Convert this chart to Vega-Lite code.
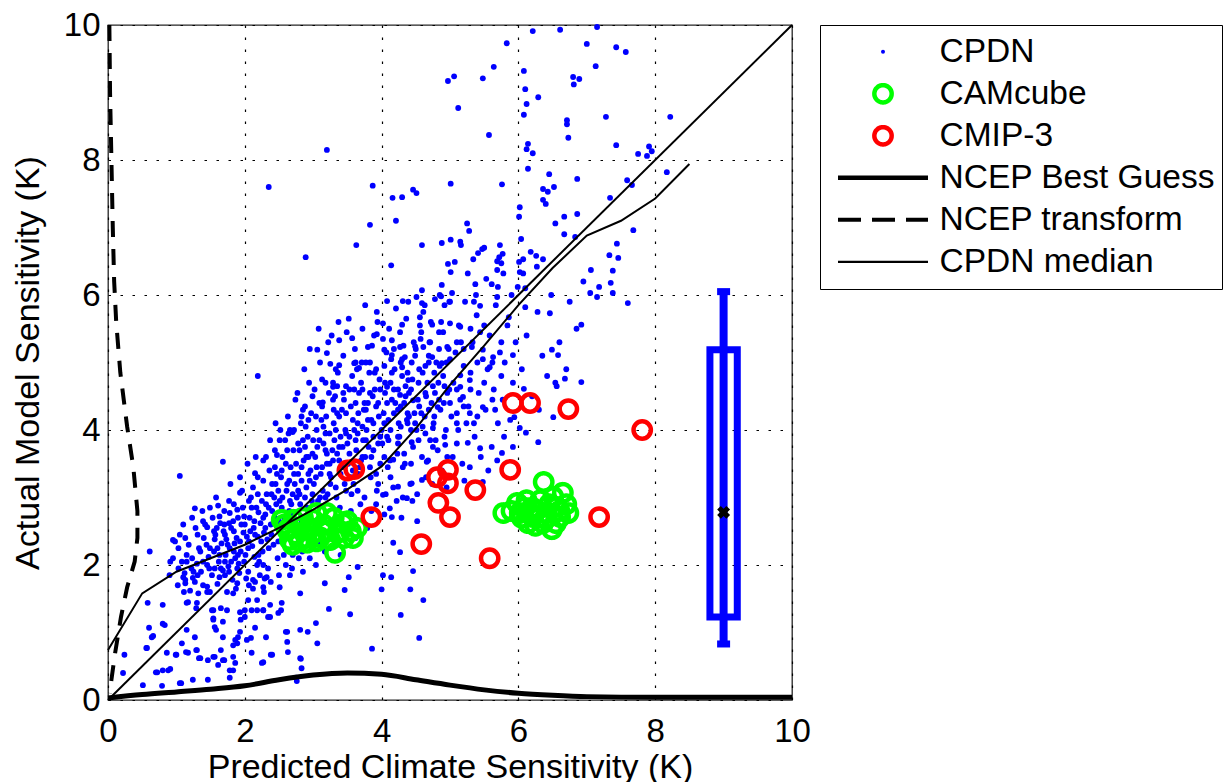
{
"$schema": "https://vega.github.io/schema/vega-lite/v6.json",
"width": 684, "height": 675,
"autosize": {"type": "none"},
"padding": {"left": 108, "top": 25, "right": 435, "bottom": 82},
"background": "white",
"config": {
  "font": "Liberation Sans",
  "view": {"stroke": "#262626", "strokeWidth": 1.3},
  "axis": {"labelFont": "Liberation Sans", "titleFont": "Liberation Sans", "labelFontSize": 33, "titleFontSize": 34, "labelColor": "black", "titleColor": "black", "titleFontWeight": "normal", "grid": true, "gridColor": "black", "gridDash": [2.5, 9.5], "gridWidth": 1.2, "gridOpacity": 1, "domain": false, "ticks": false, "format": "d"},
  "legend": {"labelFont": "Liberation Sans", "labelFontSize": 33.5, "labelColor": "black", "labelLimit": 600}
},
"datasets": {
  "cpdn": [
{"x":6.21,"y":9.91},{"x":6.61,"y":9.93},{"x":7.15,"y":9.97},{"x":5.83,"y":9.73},{"x":7.0,"y":9.72},{"x":7.43,"y":9.67},{"x":7.57,"y":9.6},{"x":7.13,"y":9.39},{"x":5.64,"y":9.38},{"x":5.06,"y":9.24},{"x":4.97,"y":9.17},{"x":5.48,"y":9.21},{"x":6.08,"y":9.32},{"x":6.8,"y":9.23},{"x":6.89,"y":9.2},{"x":6.81,"y":9.12},{"x":6.1,"y":9.05},{"x":6.29,"y":8.93},{"x":6.12,"y":8.83},{"x":5.12,"y":8.77},{"x":6.08,"y":8.67},{"x":6.71,"y":8.59},{"x":6.71,"y":8.53},{"x":7.28,"y":8.64},{"x":8.22,"y":8.64},{"x":5.57,"y":8.37},{"x":6.73,"y":8.33},{"x":7.43,"y":8.22},{"x":6.14,"y":8.24},{"x":6.12,"y":8.16},{"x":6.21,"y":8.1},{"x":7.75,"y":8.09},{"x":7.88,"y":8.06},{"x":7.91,"y":8.2},{"x":7.95,"y":8.13},{"x":8.17,"y":7.82},{"x":7.59,"y":7.7},{"x":7.66,"y":7.63},{"x":7.34,"y":7.44},{"x":7.68,"y":6.96},{"x":7.44,"y":6.76},{"x":7.33,"y":6.59},{"x":7.46,"y":6.55},{"x":7.06,"y":6.37},{"x":7.38,"y":6.36},{"x":7.35,"y":6.18},{"x":7.18,"y":6.12},{"x":7.38,"y":6.03},{"x":7.05,"y":6.03},{"x":7.15,"y":5.97},{"x":3.2,"y":8.15},{"x":2.35,"y":7.6},{"x":3.87,"y":7.62},{"x":4.16,"y":7.44},{"x":4.3,"y":7.45},{"x":4.46,"y":7.56},{"x":4.51,"y":7.51},{"x":4.21,"y":7.1},{"x":3.83,"y":7.04},{"x":3.63,"y":6.74},{"x":2.89,"y":6.56},{"x":4.14,"y":6.44},{"x":6.14,"y":7.87},{"x":6.45,"y":7.79},{"x":6.86,"y":7.72},{"x":5.01,"y":7.65},{"x":5.76,"y":7.64},{"x":6.36,"y":7.57},{"x":6.43,"y":7.53},{"x":6.52,"y":7.6},{"x":6.36,"y":7.41},{"x":6.4,"y":7.35},{"x":6.02,"y":7.3},{"x":6.01,"y":7.16},{"x":6.54,"y":7.06},{"x":6.67,"y":7.16},{"x":6.86,"y":7.2},{"x":5.25,"y":7.06},{"x":5.28,"y":6.95},{"x":4.59,"y":6.74},{"x":4.88,"y":6.77},{"x":5.01,"y":6.82},{"x":5.15,"y":6.79},{"x":5.16,"y":6.74},{"x":5.73,"y":6.74},{"x":6.04,"y":6.83},{"x":6.18,"y":6.64},{"x":6.26,"y":6.58},{"x":6.36,"y":6.53},{"x":6.67,"y":6.9},{"x":6.83,"y":6.86},{"x":4.97,"y":6.46},{"x":5.07,"y":6.49},{"x":5.01,"y":6.34},{"x":5.34,"y":6.53},{"x":5.41,"y":6.62},{"x":5.47,"y":6.68},{"x":5.5,"y":6.7},{"x":5.69,"y":6.5},{"x":5.72,"y":6.56},{"x":5.77,"y":6.61},{"x":5.75,"y":6.47},{"x":5.69,"y":6.37},{"x":5.78,"y":6.32},{"x":5.26,"y":6.32},{"x":6.01,"y":6.49},{"x":6.07,"y":6.53},{"x":6.02,"y":6.34},{"x":6.07,"y":6.32},{"x":6.27,"y":6.42},{"x":5.53,"y":6.24},{"x":5.61,"y":6.16},{"x":5.7,"y":6.12},{"x":5.37,"y":6.16},{"x":4.88,"y":6.15},{"x":4.59,"y":6.07},{"x":4.51,"y":5.97},{"x":4.87,"y":5.98},{"x":5.03,"y":6.03},{"x":5.38,"y":6.0},{"x":5.69,"y":5.97},{"x":4.08,"y":5.91},{"x":4.31,"y":5.91},{"x":4.59,"y":5.88},{"x":4.63,"y":5.85},{"x":4.78,"y":5.94},{"x":5.0,"y":5.9},{"x":5.35,"y":5.9},{"x":5.44,"y":5.84},{"x":6.1,"y":5.82},{"x":5.99,"y":6.12},{"x":7.6,"y":5.88},
{"x":6.46,"y":5.73},{"x":6.49,"y":5.19},{"x":6.58,"y":5.11},{"x":6.92,"y":5.56},{"x":6.68,"y":4.76},{"x":6.92,"y":4.71},{"x":6.54,"y":4.7},{"x":6.56,"y":4.65},{"x":6.08,"y":4.61},{"x":6.51,"y":4.19},{"x":5.94,"y":4.19},{"x":6.02,"y":4.03},{"x":6.11,"y":3.96},{"x":6.29,"y":3.82},{"x":5.92,"y":3.75},{"x":5.48,"y":3.23},{"x":5.76,"y":3.66},{"x":5.92,"y":5.11},{"x":5.86,"y":5.67},{"x":4.12,"y":2.84},{"x":4.15,"y":2.71},{"x":4.52,"y":2.65},{"x":4.17,"y":2.33},{"x":4.27,"y":2.19},{"x":4.46,"y":1.91},{"x":4.14,"y":1.82},{"x":4.02,"y":1.85},{"x":4.0,"y":1.64},{"x":4.42,"y":1.64},{"x":4.61,"y":1.48},{"x":4.28,"y":1.26},{"x":4.55,"y":0.92},{"x":3.86,"y":0.76},
{"x":4.02,"y":5.58},{"x":4.3,"y":5.56},{"x":4.56,"y":5.67},{"x":4.74,"y":5.56},{"x":4.9,"y":5.45},{"x":5.0,"y":5.58},{"x":5.15,"y":5.53},{"x":5.1,"y":5.3},{"x":4.96,"y":5.23},{"x":4.71,"y":5.3},{"x":4.61,"y":5.23},{"x":4.34,"y":5.08},{"x":4.15,"y":5.11},{"x":4.3,"y":4.93},{"x":4.74,"y":5.08},{"x":4.88,"y":4.99},{"x":5.15,"y":4.81},{"x":5.32,"y":5.23},{"x":5.48,"y":5.19},{"x":5.63,"y":5.08},{"x":5.58,"y":4.93},{"x":5.29,"y":4.74},{"x":5.15,"y":4.64},{"x":4.96,"y":4.55},{"x":4.39,"y":4.74},{"x":4.08,"y":4.64},{"x":4.27,"y":4.52},{"x":4.46,"y":4.44},{"x":4.82,"y":4.34},{"x":5.19,"y":4.49},{"x":5.29,"y":4.25},{"x":5.48,"y":4.34},{"x":5.66,"y":4.3},{"x":5.1,"y":4.1},{"x":4.75,"y":4.03},{"x":4.37,"y":4.15},{"x":4.24,"y":3.9},{"x":4.44,"y":3.82},{"x":4.75,"y":3.75},{"x":4.93,"y":3.78},{"x":5.26,"y":3.81},{"x":5.44,"y":3.73},{"x":4.17,"y":3.56},{"x":4.31,"y":3.45},{"x":4.66,"y":3.53},{"x":4.59,"y":3.26},{"x":4.44,"y":3.21},{"x":4.24,"y":3.16},{"x":4.37,"y":2.99},{"x":4.02,"y":3.04},
{"x":3.23,"y":1.35},{"x":3.04,"y":1.14},{"x":3.06,"y":0.84},{"x":3.46,"y":1.63},{"x":3.54,"y":1.27},{"x":3.17,"y":1.73},{"x":3.52,"y":1.82},{"x":2.92,"y":1.01},{"x":2.83,"y":0.47},{"x":2.82,"y":0.61},{"x":2.76,"y":0.28},{"x":2.62,"y":1.01},{"x":2.62,"y":0.86},{"x":2.63,"y":0.71},{"x":2.4,"y":0.67},{"x":2.25,"y":0.55},{"x":2.31,"y":0.93},{"x":2.15,"y":1.07},{"x":2.03,"y":0.89},{"x":2.1,"y":0.7},{"x":2.49,"y":1.29},{"x":2.54,"y":1.44},{"x":2.27,"y":1.33},{"x":2.18,"y":1.33},{"x":2.37,"y":1.23},{"x":1.78,"y":0.44},{"x":1.78,"y":0.33},{"x":1.7,"y":0.59},{"x":1.65,"y":0.74},{"x":1.83,"y":0.64},{"x":1.89,"y":0.84},{"x":1.9,"y":0.93},{"x":1.54,"y":0.64},{"x":1.46,"y":0.59},{"x":1.35,"y":0.62},{"x":1.3,"y":0.74},{"x":1.17,"y":0.7},{"x":1.08,"y":0.84},{"x":1.0,"y":0.67},{"x":0.88,"y":0.44},{"x":0.8,"y":0.44},{"x":0.72,"y":0.41},{"x":0.79,"y":0.21},{"x":0.51,"y":0.22},{"x":0.57,"y":0.77},{"x":0.64,"y":0.93},{"x":0.6,"y":1.07},{"x":0.8,"y":1.13},{"x":1.05,"y":0.25},{"x":1.24,"y":0.3},{"x":1.46,"y":0.3},{"x":0.22,"y":0.4},{"x":0.24,"y":0.67},{"x":0.58,"y":1.44},{"x":0.8,"y":1.41},{"x":1.17,"y":1.45},{"x":1.3,"y":1.44},{"x":1.13,"y":1.73},{"x":1.1,"y":1.82},{"x":1.45,"y":1.6},{"x":1.52,"y":1.33},{"x":1.54,"y":1.21},{"x":1.58,"y":1.04},{"x":1.74,"y":1.33},{"x":1.68,"y":1.16},{"x":1.93,"y":1.3},{"x":2.1,"y":1.33},{"x":2.05,"y":1.48},{"x":2.18,"y":1.48},{"x":2.37,"y":1.41},{"x":2.51,"y":1.67},{"x":2.27,"y":1.67},{"x":1.83,"y":1.58},{"x":1.49,"y":1.6},{"x":1.24,"y":1.81},{"x":1.71,"y":1.85},{"x":1.89,"y":1.73},{"x":2.12,"y":1.78},{"x":2.32,"y":1.82},{"x":2.66,"y":1.85},{"x":2.81,"y":1.58},{"x":2.85,"y":1.9},{"x":3.65,"y":1.97},{"x":0.61,"y":2.2},{"x":0.91,"y":2.05},{"x":0.83,"y":1.11},{"x":0.66,"y":0.95},{"x":0.56,"y":0.77},{"x":0.7,"y":0.41},{"x":0.91,"y":0.46},{"x":1.07,"y":0.25},{"x":0.86,"y":0.7},{"x":0.99,"y":0.67},{"x":1.14,"y":0.71},{"x":1.27,"y":0.93},{"x":1.29,"y":0.74},{"x":1.33,"y":0.62},{"x":1.56,"y":0.64},{"x":1.68,"y":0.59},{"x":1.61,"y":0.52},{"x":1.86,"y":0.55},{"x":1.83,"y":0.44},{"x":1.15,"y":1.04},{"x":1.11,"y":1.6},{"x":1.15,"y":1.44},{"x":1.29,"y":1.36},{"x":1.54,"y":1.33},{"x":1.65,"y":1.36},{"x":1.54,"y":1.19},{"x":1.56,"y":1.08},{"x":1.68,"y":0.93},{"x":1.94,"y":1.19},{"x":2.0,"y":1.23},{"x":1.93,"y":1.01},{"x":1.86,"y":0.89},{"x":1.83,"y":0.81},{"x":2.09,"y":0.92},{"x":2.0,"y":1.33},{"x":2.27,"y":1.33},{"x":2.34,"y":1.23},{"x":2.53,"y":1.33},{"x":2.6,"y":1.01},{"x":2.38,"y":0.67},{"x":2.27,"y":0.56},{"x":2.81,"y":0.62},{"x":2.75,"y":0.33},{"x":2.81,"y":1.04},
{"x":1.68,"y":3.53},{"x":1.05,"y":3.32},{"x":1.27,"y":2.84},{"x":0.95,"y":2.37},{"x":1.45,"y":2.56},{"x":2.19,"y":4.8},{"x":3.57,"y":5.36},{"x":3.76,"y":5.85},{"x":2.51,"y":3.85},{"x":2.47,"y":3.63},{"x":2.7,"y":3.97},{"x":2.85,"y":4.3},{"x":3.14,"y":4.41},{"x":3.29,"y":4.64},{"x":2.15,"y":3.36},{"x":1.93,"y":3.07},{"x":1.78,"y":2.77},{"x":1.59,"y":2.55},
{"x":3.38,"y":5.33},{"x":3.06,"y":5.19},{"x":3.2,"y":5.14},{"x":3.25,"y":4.98},{"x":3.38,"y":4.96},{"x":3.6,"y":4.99},{"x":3.67,"y":4.92},{"x":3.35,"y":4.65},{"x":3.93,"y":5.75},{"x":3.93,"y":5.42},{"x":4.15,"y":5.33},{"x":3.8,"y":5.23},{"x":4.04,"y":5.19},{"x":4.27,"y":5.23},{"x":4.49,"y":5.24},{"x":4.85,"y":6.0},{"x":4.99,"y":5.9},
{"x":1.02,"y":1.7},{"x":1.08,"y":2.05},{"x":1.12,"y":1.88},{"x":1.18,"y":2.3},{"x":1.05,"y":2.45},{"x":1.2,"y":1.62},{"x":1.15,"y":2.15},{"x":1.22,"y":1.95},{"x":0.95,"y":2.1},{"x":0.9,"y":1.85},{"x":0.98,"y":2.35},{"x":1.1,"y":2.6},
{"x":1.27,"y":1.75},{"x":1.3,"y":2.02},{"x":1.33,"y":2.25},{"x":1.36,"y":1.9},{"x":1.4,"y":2.4},{"x":1.42,"y":2.6},{"x":1.45,"y":1.68},{"x":1.47,"y":2.12},{"x":1.28,"y":2.55},{"x":1.38,"y":2.8},{"x":1.48,"y":1.95},{"x":1.32,"y":1.58},{"x":1.44,"y":2.3},
{"x":1.52,"y":1.85},{"x":1.55,"y":2.2},{"x":1.57,"y":2.45},{"x":1.6,"y":1.72},{"x":1.62,"y":2.05},{"x":1.64,"y":2.62},{"x":1.66,"y":2.32},{"x":1.68,"y":1.92},{"x":1.7,"y":2.8},{"x":1.72,"y":2.15},{"x":1.74,"y":1.6},{"x":1.53,"y":2.7},{"x":1.58,"y":3.0},{"x":1.69,"y":2.5},{"x":1.61,"y":2.88},{"x":1.73,"y":2.38},
{"x":1.76,"y":1.98},{"x":1.78,"y":2.25},{"x":1.8,"y":2.55},{"x":1.82,"y":1.78},{"x":1.84,"y":2.9},{"x":1.86,"y":2.1},{"x":1.88,"y":2.4},{"x":1.9,"y":2.7},{"x":1.92,"y":1.88},{"x":1.94,"y":2.2},{"x":1.96,"y":3.1},{"x":1.98,"y":2.48},{"x":1.79,"y":3.2},{"x":1.83,"y":2.65},{"x":1.91,"y":2.02},{"x":1.97,"y":2.85},{"x":1.87,"y":1.65},{"x":1.95,"y":2.6},
{"x":2.01,"y":2.15},{"x":2.03,"y":2.42},{"x":2.05,"y":1.9},{"x":2.07,"y":2.7},{"x":2.09,"y":3.0},{"x":2.11,"y":2.28},{"x":2.13,"y":2.55},{"x":2.15,"y":1.75},{"x":2.17,"y":2.85},{"x":2.19,"y":3.3},{"x":2.21,"y":2.05},{"x":2.23,"y":2.62},{"x":2.24,"y":2.35},{"x":2.04,"y":3.5},{"x":2.12,"y":3.15},{"x":2.18,"y":2.0},{"x":2.2,"y":2.78},{"x":2.08,"y":2.5},{"x":2.16,"y":3.6},{"x":2.22,"y":1.85},
{"x":2.26,"y":2.2},{"x":2.28,"y":2.48},{"x":2.3,"y":2.75},{"x":2.32,"y":3.05},{"x":2.34,"y":1.95},{"x":2.36,"y":3.4},{"x":2.38,"y":2.6},{"x":2.4,"y":3.2},{"x":2.42,"y":2.3},{"x":2.44,"y":3.7},{"x":2.46,"y":2.9},{"x":2.48,"y":2.1},{"x":2.27,"y":3.55},{"x":2.33,"y":2.38},{"x":2.37,"y":3.85},{"x":2.43,"y":3.0},{"x":2.47,"y":3.35},{"x":2.29,"y":1.8},{"x":2.35,"y":2.85},{"x":2.45,"y":4.1},
{"x":2.51,"y":2.95},{"x":2.53,"y":3.3},{"x":2.55,"y":3.6},{"x":2.57,"y":2.15},{"x":2.59,"y":3.85},{"x":2.61,"y":3.1},{"x":2.63,"y":4.2},{"x":2.65,"y":2.8},{"x":2.67,"y":3.45},{"x":2.69,"y":1.95},{"x":2.71,"y":3.7},{"x":2.73,"y":3.2},{"x":2.74,"y":4.45},{"x":2.52,"y":4.0},{"x":2.56,"y":2.4},{"x":2.6,"y":3.5},{"x":2.64,"y":3.95},{"x":2.68,"y":2.9},{"x":2.72,"y":4.0},{"x":2.58,"y":2.7},{"x":2.7,"y":3.05},
{"x":2.76,"y":3.0},{"x":2.78,"y":3.35},{"x":2.8,"y":3.7},{"x":2.82,"y":4.1},{"x":2.84,"y":2.2},{"x":2.86,"y":3.55},{"x":2.88,"y":4.35},{"x":2.9,"y":3.15},{"x":2.92,"y":3.9},{"x":2.94,"y":4.7},{"x":2.96,"y":3.4},{"x":2.98,"y":2.95},{"x":2.77,"y":4.55},{"x":2.81,"y":2.9},{"x":2.85,"y":3.85},{"x":2.89,"y":4.05},{"x":2.93,"y":3.6},{"x":2.97,"y":4.25},{"x":2.79,"y":2.1},{"x":2.83,"y":3.25},{"x":2.91,"y":2.85},{"x":2.95,"y":5.2},{"x":2.87,"y":4.9},
{"x":3.01,"y":3.2},{"x":3.03,"y":3.6},{"x":3.05,"y":4.0},{"x":3.07,"y":2.95},{"x":3.09,"y":4.4},{"x":3.11,"y":3.35},{"x":3.13,"y":4.75},{"x":3.15,"y":3.8},{"x":3.17,"y":2.2},{"x":3.19,"y":4.2},{"x":3.21,"y":3.05},{"x":3.23,"y":4.55},{"x":3.24,"y":3.5},{"x":3.02,"y":4.6},{"x":3.06,"y":3.75},{"x":3.1,"y":5.0},{"x":3.14,"y":3.1},{"x":3.18,"y":3.95},{"x":3.22,"y":5.3},{"x":3.04,"y":2.0},{"x":3.12,"y":4.15},{"x":3.2,"y":3.65},{"x":3.08,"y":5.5},
{"x":3.26,"y":3.3},{"x":3.28,"y":3.7},{"x":3.3,"y":4.1},{"x":3.32,"y":4.5},{"x":3.34,"y":3.0},{"x":3.36,"y":4.85},{"x":3.38,"y":3.55},{"x":3.4,"y":3.9},{"x":3.42,"y":4.3},{"x":3.44,"y":5.1},{"x":3.46,"y":3.2},{"x":3.48,"y":4.65},{"x":3.27,"y":5.4},{"x":3.31,"y":3.85},{"x":3.35,"y":4.25},{"x":3.39,"y":2.85},{"x":3.43,"y":3.75},{"x":3.47,"y":4.0},{"x":3.29,"y":4.7},{"x":3.37,"y":5.6},{"x":3.45,"y":2.6},{"x":3.33,"y":2.3},{"x":3.49,"y":5.45},
{"x":3.51,"y":3.5},{"x":3.53,"y":3.9},{"x":3.55,"y":4.35},{"x":3.57,"y":4.8},{"x":3.59,"y":3.2},{"x":3.61,"y":5.2},{"x":3.63,"y":3.7},{"x":3.65,"y":4.1},{"x":3.67,"y":4.55},{"x":3.69,"y":2.9},{"x":3.71,"y":5.0},{"x":3.73,"y":3.85},{"x":3.74,"y":4.3},{"x":3.52,"y":5.65},{"x":3.56,"y":3.05},{"x":3.6,"y":4.0},{"x":3.64,"y":4.9},{"x":3.68,"y":3.45},{"x":3.72,"y":5.5},{"x":3.54,"y":2.55},{"x":3.62,"y":2.4},{"x":3.7,"y":4.7},
{"x":3.76,"y":3.6},{"x":3.78,"y":4.0},{"x":3.8,"y":4.4},{"x":3.82,"y":4.85},{"x":3.84,"y":3.3},{"x":3.86,"y":5.25},{"x":3.88,"y":3.9},{"x":3.9,"y":4.6},{"x":3.92,"y":2.9},{"x":3.94,"y":5.6},{"x":3.96,"y":4.2},{"x":3.98,"y":3.5},{"x":3.77,"y":5.0},{"x":3.81,"y":3.75},{"x":3.85,"y":4.15},{"x":3.89,"y":5.4},{"x":3.93,"y":3.1},{"x":3.97,"y":4.75},{"x":3.79,"y":2.55},{"x":3.87,"y":4.5},{"x":3.95,"y":3.8},
{"x":4.01,"y":3.8},{"x":4.03,"y":4.25},{"x":4.05,"y":4.7},{"x":4.07,"y":5.15},{"x":4.09,"y":3.45},{"x":4.11,"y":5.5},{"x":4.13,"y":4.0},{"x":4.15,"y":4.45},{"x":4.17,"y":3.15},{"x":4.19,"y":4.9},{"x":4.21,"y":5.8},{"x":4.23,"y":3.65},{"x":4.24,"y":4.3},{"x":4.02,"y":5.35},{"x":4.06,"y":3.05},{"x":4.1,"y":4.15},{"x":4.14,"y":5.05},{"x":4.18,"y":4.6},{"x":4.22,"y":2.95},{"x":4.04,"y":2.75},{"x":4.12,"y":3.55},
{"x":4.26,"y":3.9},{"x":4.28,"y":4.35},{"x":4.3,"y":4.8},{"x":4.32,"y":5.25},{"x":4.34,"y":3.5},{"x":4.36,"y":5.65},{"x":4.38,"y":4.1},{"x":4.4,"y":4.55},{"x":4.42,"y":3.2},{"x":4.44,"y":5.0},{"x":4.46,"y":3.75},{"x":4.48,"y":4.25},{"x":4.27,"y":5.45},{"x":4.31,"y":3.0},{"x":4.35,"y":4.65},{"x":4.39,"y":5.9},{"x":4.43,"y":4.0},{"x":4.47,"y":5.3},{"x":4.29,"y":2.7},{"x":4.45,"y":2.95},
{"x":4.51,"y":4.0},{"x":4.53,"y":4.45},{"x":4.55,"y":4.9},{"x":4.57,"y":5.35},{"x":4.59,"y":3.6},{"x":4.61,"y":5.75},{"x":4.63,"y":4.2},{"x":4.65,"y":3.3},{"x":4.67,"y":4.7},{"x":4.69,"y":5.1},{"x":4.71,"y":3.85},{"x":4.73,"y":4.4},{"x":4.52,"y":3.05},{"x":4.56,"y":5.55},{"x":4.6,"y":4.05},{"x":4.64,"y":4.95},{"x":4.68,"y":3.55},{"x":4.72,"y":5.6},{"x":4.74,"y":3.2},
{"x":4.76,"y":4.1},{"x":4.78,"y":4.55},{"x":4.8,"y":5.0},{"x":4.82,"y":3.7},{"x":4.84,"y":5.45},{"x":4.86,"y":4.3},{"x":4.88,"y":3.4},{"x":4.9,"y":4.8},{"x":4.92,"y":5.85},{"x":4.94,"y":4.0},{"x":4.96,"y":3.6},{"x":4.98,"y":5.2},{"x":4.79,"y":3.85},{"x":4.83,"y":4.7},{"x":4.87,"y":5.6},{"x":4.91,"y":4.4},{"x":4.95,"y":3.15},{"x":4.99,"y":4.6},
{"x":5.02,"y":4.2},{"x":5.05,"y":4.7},{"x":5.08,"y":5.15},{"x":5.1,"y":3.8},{"x":5.13,"y":5.55},{"x":5.15,"y":4.45},{"x":5.18,"y":3.5},{"x":5.2,"y":4.95},{"x":5.22,"y":5.9},{"x":5.24,"y":4.1},{"x":5.04,"y":3.6},{"x":5.12,"y":4.0},{"x":5.16,"y":5.3},{"x":5.21,"y":3.25},
{"x":5.27,"y":4.35},{"x":5.3,"y":4.85},{"x":5.33,"y":5.3},{"x":5.36,"y":3.9},{"x":5.39,"y":5.7},{"x":5.42,"y":4.55},{"x":5.45,"y":3.6},{"x":5.48,"y":5.05},{"x":5.29,"y":3.45},{"x":5.35,"y":4.1},{"x":5.44,"y":5.45},
{"x":5.52,"y":4.3},{"x":5.55,"y":4.9},{"x":5.58,"y":5.4},{"x":5.61,"y":3.75},{"x":5.64,"y":4.6},{"x":5.67,"y":5.85},{"x":5.7,"y":4.1},{"x":5.73,"y":5.15},{"x":5.56,"y":3.4},{"x":5.69,"y":3.55},
{"x":5.77,"y":4.45},{"x":5.8,"y":5.0},{"x":5.84,"y":5.55},{"x":5.88,"y":4.15},{"x":5.92,"y":4.7},{"x":5.96,"y":5.3},{"x":5.79,"y":3.9},{"x":5.9,"y":6.0},
{"x":6.05,"y":4.9},{"x":6.12,"y":5.4},{"x":6.2,"y":4.5},{"x":6.28,"y":5.75},{"x":6.35,"y":5.1},{"x":6.42,"y":4.8},{"x":6.48,"y":6.0},{"x":6.1,"y":6.1},{"x":6.3,"y":4.3},{"x":6.6,"y":5.3},{"x":6.75,"y":5.9},{"x":6.85,"y":5.5},{"x":6.95,"y":6.2},{"x":6.7,"y":4.9},
{"x":1.85,"y":2.32},{"x":1.9,"y":2.15},{"x":2.0,"y":2.6},{"x":2.05,"y":2.25},{"x":2.1,"y":2.85},{"x":2.15,"y":2.45},{"x":2.2,"y":2.15},{"x":2.25,"y":2.95},{"x":2.3,"y":2.55},{"x":2.35,"y":2.25},{"x":2.4,"y":2.8},{"x":2.45,"y":3.2},{"x":2.5,"y":2.65},{"x":2.55,"y":3.0},{"x":2.6,"y":2.4},{"x":2.65,"y":3.25},{"x":2.7,"y":2.75},{"x":2.75,"y":3.5},{"x":2.8,"y":3.05},{"x":2.85,"y":2.7},{"x":2.9,"y":3.6},{"x":2.95,"y":3.25},{"x":3.0,"y":3.85},{"x":3.05,"y":3.45},{"x":3.1,"y":3.0},{"x":3.15,"y":4.05},{"x":3.2,"y":3.5},{"x":3.25,"y":3.2},{"x":3.3,"y":4.3},{"x":3.35,"y":3.65},{"x":3.4,"y":3.35},{"x":3.45,"y":4.45},{"x":3.5,"y":3.8},{"x":3.55,"y":3.3},{"x":3.6,"y":4.6},{"x":3.65,"y":3.95},{"x":3.7,"y":3.55},{"x":3.75,"y":4.4},{"x":3.8,"y":4.15},{"x":3.85,"y":3.6},{"x":3.9,"y":4.85},{"x":3.95,"y":4.4},{"x":4.0,"y":4.0},{"x":4.05,"y":4.55},{"x":4.1,"y":3.85},{"x":4.15,"y":4.85},{"x":4.2,"y":4.4},{"x":4.25,"y":4.1},{"x":4.3,"y":5.05},{"x":4.35,"y":4.5},{"x":4.4,"y":4.2},{"x":4.45,"y":4.75},{"x":4.5,"y":5.2},{"x":4.55,"y":4.35},{"x":4.6,"y":4.85},{"x":4.65,"y":4.5},{"x":4.7,"y":5.3},{"x":4.75,"y":4.65},{"x":4.85,"y":4.95},{"x":4.95,"y":5.0},
{"x":1.6,"y":2.25},{"x":1.65,"y":1.95},{"x":1.7,"y":2.6},{"x":1.75,"y":2.3},{"x":1.8,"y":2.05},{"x":1.55,"y":2.5},{"x":1.45,"y":2.0},{"x":1.35,"y":2.2},{"x":1.25,"y":1.9},{"x":1.15,"y":2.05},{"x":2.02,"y":1.8},{"x":2.12,"y":1.65},{"x":2.28,"y":1.6},{"x":2.38,"y":1.75},{"x":2.5,"y":1.85},{"x":2.6,"y":2.0},{"x":2.7,"y":2.15},{"x":2.85,"y":2.4},{"x":2.95,"y":2.1},{"x":3.1,"y":2.3},{"x":3.25,"y":2.5},{"x":3.4,"y":2.15},{"x":3.55,"y":2.8},{"x":3.65,"y":3.1},{"x":3.75,"y":3.0},{"x":3.85,"y":2.8},{"x":3.95,"y":3.2},
{"x":1.03,"y":1.95},{"x":1.03,"y":2.25},{"x":1.13,"y":1.78},{"x":1.13,"y":2.4},{"x":1.23,"y":2.1},{"x":1.23,"y":2.7},{"x":1.31,"y":1.85},{"x":1.31,"y":2.45},{"x":1.39,"y":2.05},{"x":1.39,"y":2.65},{"x":1.39,"y":1.7},{"x":1.49,"y":2.25},{"x":1.49,"y":2.85},{"x":1.56,"y":1.95},{"x":1.56,"y":2.38},{"x":1.63,"y":2.15},{"x":1.63,"y":2.72},{"x":1.63,"y":1.82},{"x":1.71,"y":2.45},{"x":1.71,"y":2.05},{"x":1.77,"y":2.62},{"x":1.77,"y":1.9},{"x":1.77,"y":2.95},{"x":1.84,"y":2.2},{"x":1.84,"y":2.5},{"x":1.89,"y":2.82},{"x":1.89,"y":1.95},{"x":1.93,"y":2.35},{"x":1.93,"y":3.3},{"x":1.99,"y":2.05},{"x":1.99,"y":2.72},{"x":2.06,"y":2.35},{"x":2.06,"y":2.95},{"x":2.06,"y":1.7},{"x":2.14,"y":2.65},{"x":2.14,"y":2.12},{"x":2.19,"y":2.42},{"x":2.19,"y":3.05},{"x":2.27,"y":2.7},{"x":2.27,"y":2.0},{"x":2.27,"y":3.25},{"x":2.31,"y":2.9},{"x":2.31,"y":3.6},{"x":2.39,"y":2.45},{"x":2.39,"y":3.05},{"x":2.44,"y":2.7},{"x":2.44,"y":3.45},{"x":2.49,"y":3.1},{"x":2.49,"y":2.35},{"x":2.54,"y":2.85},{"x":2.54,"y":3.4},{"x":2.62,"y":3.2},{"x":2.62,"y":3.7},{"x":2.62,"y":2.6},{"x":2.66,"y":2.95},{"x":2.66,"y":4.0},{"x":2.72,"y":3.35},{"x":2.72,"y":2.55},{"x":2.78,"y":3.8},{"x":2.78,"y":3.1},{"x":2.83,"y":3.45},{"x":2.83,"y":2.65},{"x":2.83,"y":4.2},{"x":2.88,"y":3.75},{"x":2.88,"y":3.0},{"x":2.93,"y":4.15},{"x":2.93,"y":3.35},{"x":2.99,"y":3.65},{"x":2.99,"y":4.5},{"x":2.99,"y":3.05},{"x":3.04,"y":3.3},{"x":3.04,"y":4.2},{"x":3.09,"y":3.85},{"x":3.09,"y":2.7},{"x":3.13,"y":3.45},{"x":3.13,"y":4.35},{"x":3.18,"y":3.7},{"x":3.18,"y":4.7},{"x":3.18,"y":3.0},{"x":3.24,"y":3.95},{"x":3.24,"y":3.35},{"x":3.29,"y":3.55},{"x":3.29,"y":4.45},{"x":3.33,"y":4.0},{"x":3.33,"y":3.15},{"x":3.33,"y":4.9},{"x":3.38,"y":3.75},{"x":3.38,"y":4.2},{"x":3.44,"y":3.45},{"x":3.44,"y":4.55},{"x":3.48,"y":3.95},{"x":3.48,"y":4.25},{"x":3.48,"y":3.1},{"x":3.53,"y":3.65},{"x":3.53,"y":4.6},{"x":3.58,"y":4.15},{"x":3.58,"y":3.4},{"x":3.62,"y":3.85},{"x":3.62,"y":4.4},{"x":3.62,"y":5.0},{"x":3.66,"y":3.35},{"x":3.66,"y":4.25},{"x":3.72,"y":4.05},{"x":3.72,"y":4.6},{"x":3.72,"y":3.6},{"x":3.77,"y":3.85},{"x":3.77,"y":4.3},{"x":3.83,"y":4.55},{"x":3.83,"y":3.45},{"x":3.83,"y":5.0},{"x":3.88,"y":4.1},{"x":3.88,"y":3.7},{"x":3.92,"y":4.35},{"x":3.92,"y":4.9},{"x":3.92,"y":3.35},{"x":3.98,"y":3.9},{"x":3.98,"y":4.6},{"x":4.04,"y":4.1},{"x":4.04,"y":4.95},{"x":4.04,"y":3.6},{"x":4.08,"y":4.4},{"x":4.08,"y":3.9},{"x":4.13,"y":4.7},{"x":4.13,"y":3.3},{"x":4.18,"y":4.25},{"x":4.18,"y":5.2},{"x":4.24,"y":4.6},{"x":4.24,"y":3.8},{"x":4.28,"y":4.05},{"x":4.28,"y":5.0},{"x":4.33,"y":4.4},{"x":4.33,"y":3.65},{"x":4.38,"y":4.85},{"x":4.38,"y":4.25},{"x":4.43,"y":4.6},{"x":4.43,"y":3.5},{"x":4.49,"y":4.1},{"x":4.49,"y":5.1},{"x":4.54,"y":4.7},{"x":4.54,"y":3.85},{"x":4.58,"y":4.25},{"x":4.58,"y":5.45},{"x":4.64,"y":4.55},{"x":4.64,"y":3.95},{"x":4.69,"y":4.3},{"x":4.69,"y":5.0},{"x":4.77,"y":4.85},{"x":4.77,"y":4.2},{"x":4.84,"y":4.45},{"x":4.84,"y":5.2},{"x":4.92,"y":4.65},{"x":4.92,"y":3.9},{"x":5.0,"y":4.4},{"x":5.0,"y":5.05},{"x":5.1,"y":4.6},{"x":5.1,"y":4.25},{"x":5.2,"y":5.2},{"x":5.2,"y":4.35},{"x":5.3,"y":4.6},{"x":5.3,"y":5.5},{"x":5.4,"y":5.0},{"x":5.4,"y":4.2},{"x":5.5,"y":4.7},{"x":5.5,"y":5.55},{"x":5.62,"y":5.0},{"x":5.62,"y":4.45},{"x":5.75,"y":5.3},{"x":5.75,"y":4.8}
  ],
  "camcube": [
{"x":6.37,"y":3.23},{"x":6.65,"y":3.07},{"x":5.78,"y":2.77},{"x":5.98,"y":2.92},{"x":6.12,"y":2.96},{"x":6.27,"y":2.81},{"x":6.41,"y":2.77},{"x":6.56,"y":2.86},{"x":6.73,"y":2.77},{"x":6.14,"y":2.62},{"x":6.49,"y":2.53},{"x":6.36,"y":2.62},{"x":6.02,"y":2.77},{"x":6.21,"y":2.71},{"x":6.61,"y":2.71},{"x":6.32,"y":2.96},{"x":6.51,"y":3.01},{"x":5.9,"y":2.8},{"x":6.05,"y":2.7},{"x":6.2,"y":2.85},{"x":6.3,"y":2.7},{"x":6.45,"y":2.9},{"x":6.6,"y":2.8},{"x":6.7,"y":2.9},{"x":6.25,"y":2.58},{"x":6.4,"y":2.68},{"x":6.55,"y":2.62},{"x":6.08,"y":2.85},{"x":6.18,"y":2.78},
{"x":2.54,"y":2.67},{"x":2.66,"y":2.37},{"x":2.81,"y":2.56},{"x":3.0,"y":2.67},{"x":3.2,"y":2.77},{"x":3.35,"y":2.47},{"x":3.64,"y":2.55},{"x":3.32,"y":2.18},{"x":3.58,"y":2.4},{"x":2.91,"y":2.33},{"x":3.1,"y":2.41},{"x":3.44,"y":2.62},{"x":2.71,"y":2.67},{"x":3.05,"y":2.77},{"x":3.25,"y":2.37},{"x":2.62,"y":2.52},{"x":3.0,"y":2.47},{"x":2.58,"y":2.6},{"x":2.75,"y":2.45},{"x":2.85,"y":2.7},{"x":2.95,"y":2.55},{"x":3.15,"y":2.6},{"x":3.3,"y":2.7},{"x":3.4,"y":2.5},{"x":3.5,"y":2.65},{"x":2.7,"y":2.3},{"x":2.9,"y":2.4},{"x":3.2,"y":2.5},{"x":3.05,"y":2.35},{"x":3.55,"y":2.5},{"x":2.65,"y":2.55},{"x":3.45,"y":2.4},{"x":2.8,"y":2.35}
  ],
  "cmip": [
{"x":5.92,"y":4.4},{"x":6.17,"y":4.4},{"x":6.73,"y":4.31},{"x":7.81,"y":4.0},{"x":3.85,"y":2.71},{"x":3.5,"y":3.4},{"x":3.6,"y":3.42},{"x":4.81,"y":3.3},{"x":4.97,"y":3.41},{"x":4.97,"y":3.21},{"x":5.37,"y":3.11},{"x":5.88,"y":3.41},{"x":4.83,"y":2.92},{"x":5.0,"y":2.71},{"x":4.58,"y":2.31},{"x":5.58,"y":2.1},{"x":7.18,"y":2.71}
  ],
  "best": [
{"x":0,"y":0.03},{"x":0.5,"y":0.08},{"x":1,"y":0.12},{"x":1.5,"y":0.16},{"x":2,"y":0.21},{"x":2.5,"y":0.3},{"x":3,"y":0.37},{"x":3.5,"y":0.4},{"x":4,"y":0.38},{"x":4.5,"y":0.3},{"x":5,"y":0.22},{"x":5.5,"y":0.15},{"x":6,"y":0.1},{"x":6.5,"y":0.07},{"x":7,"y":0.05},{"x":8,"y":0.04},{"x":10,"y":0.04}
  ],
  "transform": [
{"o":1,"x":0.02,"y":10},{"o":2,"x":0.03,"y":9},{"o":3,"x":0.05,"y":8},{"o":4,"x":0.07,"y":7},{"o":5,"x":0.09,"y":6.2},{"o":6,"x":0.12,"y":5.6},{"o":7,"x":0.18,"y":4.85},{"o":8,"x":0.28,"y":4.05},{"o":9,"x":0.37,"y":3.45},{"o":10,"x":0.43,"y":2.8},{"o":11,"x":0.43,"y":2.4},{"o":12,"x":0.39,"y":2.05},{"o":13,"x":0.28,"y":1.67},{"o":14,"x":0.19,"y":1.23},{"o":15,"x":0.1,"y":0.67},{"o":16,"x":0.05,"y":0.3},{"o":17,"x":0.03,"y":0.1}
  ],
  "median": [
{"x":0,"y":0.74},{"x":0.5,"y":1.58},{"x":1,"y":1.9},{"x":1.5,"y":2.1},{"x":2,"y":2.3},{"x":2.5,"y":2.55},{"x":3,"y":2.82},{"x":3.5,"y":3.12},{"x":4,"y":3.46},{"x":4.5,"y":4.02},{"x":5,"y":4.67},{"x":5.5,"y":5.25},{"x":6,"y":5.85},{"x":6.5,"y":6.4},{"x":7,"y":6.88},{"x":7.5,"y":7.1},{"x":8,"y":7.43},{"x":8.5,"y":7.94}
  ],
  "identity": [{"x":0,"y":0},{"x":10,"y":10}],
  "box": [{"x":9,"xa":8.8,"xb":9.2,"ca":8.905,"cb":9.095,"lo":0.83,"q1":1.23,"med":2.78,"q3":5.19,"hi":6.05}]
},
"layer": [
  {
    "data": {"name": "cpdn"},
    "mark": {"type": "point", "filled": true, "size": 34, "opacity": 1, "strokeWidth": 0, "color": "#0000ff"},
    "encoding": {
      "x": {"field": "x", "type": "quantitative", "scale": {"domain": [0, 10], "nice": false}, "axis": {"values": [0, 2, 4, 6, 8, 10], "title": "Predicted Climate Sensitivity (K)", "labelPadding": 15, "titlePadding": 2, "labelFlush": false}},
      "y": {"field": "y", "type": "quantitative", "scale": {"domain": [0, 10], "nice": false}, "axis": {"values": [0, 2, 4, 6, 8, 10], "title": "Actual Model Sensitivity (K)", "labelPadding": 8, "titlePadding": 18}}
    }
  },
  {
    "data": {"name": "camcube"},
    "mark": {"type": "point", "filled": false, "opacity": 1},
    "encoding": {
      "x": {"field": "x", "type": "quantitative", "scale": {"domain": [0, 10], "nice": false}},
      "y": {"field": "y", "type": "quantitative", "scale": {"domain": [0, 10], "nice": false}},
      "stroke": {"datum": "CAMcube", "type": "nominal",
        "scale": {"domain": ["CPDN", "CAMcube", "CMIP-3", "NCEP Best Guess", "NCEP transform", "CPDN median"], "range": ["#0000ff", "#00ff00", "#ff0000", "#000000", "#000000", "#000000"]},
        "legend": {"orient": "none", "legendX": 712, "legendY": 0, "title": null, "clipHeight": 41.6, "rowPadding": 0, "padding": 6, "strokeColor": "black", "fillColor": "white", "labelFont": "Liberation Sans", "labelFontSize": 33.5, "labelColor": "black", "labelLimit": 600, "symbolOffset": 9.5, "labelOffset": 9}},
      "fill": {"datum": "CAMcube", "type": "nominal",
        "scale": {"domain": ["CPDN", "CAMcube", "CMIP-3", "NCEP Best Guess", "NCEP transform", "CPDN median"], "range": ["#0000ff", "transparent", "transparent", "transparent", "transparent", "transparent"]}},
      "shape": {"datum": "CAMcube", "type": "nominal",
        "scale": {"domain": ["CPDN", "CAMcube", "CMIP-3", "NCEP Best Guess", "NCEP transform", "CPDN median"], "range": ["circle", "circle", "circle", "stroke", "stroke", "stroke"]}},
      "size": {"datum": "CAMcube", "type": "nominal",
        "scale": {"type": "ordinal", "domain": ["CPDN", "CAMcube", "CMIP-3", "NCEP Best Guess", "NCEP transform", "CPDN median"], "range": [16, 300, 300, 8100, 8100, 8100]}},
      "strokeWidth": {"datum": "CAMcube", "type": "nominal",
        "scale": {"type": "ordinal", "domain": ["CPDN", "CAMcube", "CMIP-3", "NCEP Best Guess", "NCEP transform", "CPDN median"], "range": [0, 4.5, 4.5, 4.5, 4, 2.2]}},
      "strokeDash": {"datum": "CAMcube", "type": "nominal",
        "scale": {"domain": ["CPDN", "CAMcube", "CMIP-3", "NCEP Best Guess", "NCEP transform", "CPDN median"], "range": [[1, 0], [1, 0], [1, 0], [1, 0], [23, 11], [1, 0]]}}
    }
  },
  {
    "data": {"name": "cmip"},
    "mark": {"type": "point", "filled": false, "size": 300, "strokeWidth": 4.5, "opacity": 1, "color": "#ff0000"},
    "encoding": {
      "x": {"field": "x", "type": "quantitative", "scale": {"domain": [0, 10], "nice": false}},
      "y": {"field": "y", "type": "quantitative", "scale": {"domain": [0, 10], "nice": false}}
    }
  },
  {
    "data": {"name": "identity"},
    "mark": {"type": "line", "strokeWidth": 2, "color": "black"},
    "encoding": {
      "x": {"field": "x", "type": "quantitative", "scale": {"domain": [0, 10], "nice": false}},
      "y": {"field": "y", "type": "quantitative", "scale": {"domain": [0, 10], "nice": false}}
    }
  },
  {
    "data": {"name": "median"},
    "mark": {"type": "line", "strokeWidth": 2, "color": "black"},
    "encoding": {
      "x": {"field": "x", "type": "quantitative", "scale": {"domain": [0, 10], "nice": false}},
      "y": {"field": "y", "type": "quantitative", "scale": {"domain": [0, 10], "nice": false}}
    }
  },
  {
    "data": {"name": "best"},
    "mark": {"type": "line", "strokeWidth": 5, "interpolate": "monotone", "color": "black"},
    "encoding": {
      "x": {"field": "x", "type": "quantitative", "scale": {"domain": [0, 10], "nice": false}},
      "y": {"field": "y", "type": "quantitative", "scale": {"domain": [0, 10], "nice": false}}
    }
  },
  {
    "data": {"name": "transform"},
    "mark": {"type": "line", "strokeWidth": 4, "strokeDash": [16, 12], "color": "black"},
    "encoding": {
      "x": {"field": "x", "type": "quantitative", "scale": {"domain": [0, 10], "nice": false}},
      "y": {"field": "y", "type": "quantitative", "scale": {"domain": [0, 10], "nice": false}},
      "order": {"field": "o"}
    }
  },
  {
    "data": {"name": "box"},
    "mark": {"type": "rule", "strokeWidth": 8, "color": "#0000ff"},
    "encoding": {
      "x": {"field": "x", "type": "quantitative", "scale": {"domain": [0, 10], "nice": false}},
      "y": {"field": "lo", "type": "quantitative", "scale": {"domain": [0, 10], "nice": false}},
      "y2": {"field": "hi"}
    }
  },
  {
    "data": {"name": "box"},
    "mark": {"type": "rect", "fill": "transparent", "stroke": "#0000ff", "strokeWidth": 7},
    "encoding": {
      "x": {"field": "xa", "type": "quantitative", "scale": {"domain": [0, 10], "nice": false}},
      "x2": {"field": "xb"},
      "y": {"field": "q1", "type": "quantitative", "scale": {"domain": [0, 10], "nice": false}},
      "y2": {"field": "q3"}
    }
  },
  {
    "data": {"name": "box"},
    "mark": {"type": "rule", "strokeWidth": 7, "color": "#0000ff"},
    "encoding": {
      "x": {"field": "ca", "type": "quantitative", "scale": {"domain": [0, 10], "nice": false}},
      "x2": {"field": "cb"},
      "y": {"field": "hi", "type": "quantitative", "scale": {"domain": [0, 10], "nice": false}}
    }
  },
  {
    "data": {"name": "box"},
    "mark": {"type": "rule", "strokeWidth": 7, "color": "#0000ff"},
    "encoding": {
      "x": {"field": "ca", "type": "quantitative", "scale": {"domain": [0, 10], "nice": false}},
      "x2": {"field": "cb"},
      "y": {"field": "lo", "type": "quantitative", "scale": {"domain": [0, 10], "nice": false}}
    }
  },
  {
    "data": {"name": "box"},
    "mark": {"type": "point", "shape": "cross", "angle": 45, "filled": true, "size": 170, "color": "black", "opacity": 1},
    "encoding": {
      "x": {"field": "x", "type": "quantitative", "scale": {"domain": [0, 10], "nice": false}},
      "y": {"field": "med", "type": "quantitative", "scale": {"domain": [0, 10], "nice": false}}
    }
  }
]
}
